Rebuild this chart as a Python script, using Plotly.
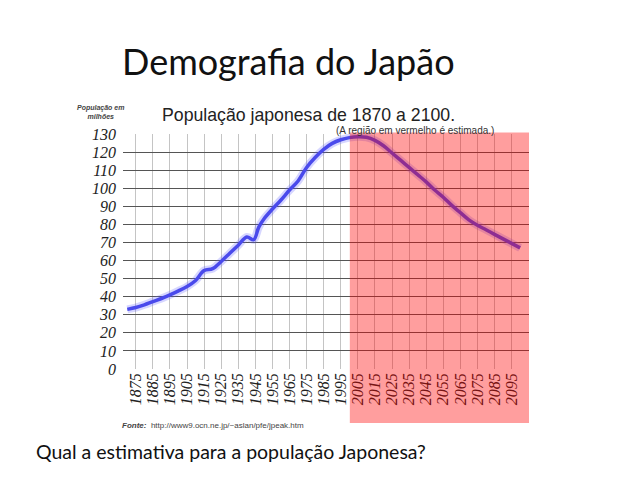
import plotly.graph_objects as go

years = [1870, 1875, 1880, 1885, 1890, 1895, 1900, 1905, 1910, 1915, 1920, 1925,
         1930, 1935, 1940, 1944, 1947, 1950, 1955, 1960, 1965, 1970, 1975, 1980,
         1985, 1990, 1995, 2000, 2005, 2010, 2015, 2020, 2025, 2030, 2035, 2040,
         2045, 2050, 2055, 2060, 2065, 2070, 2075, 2080, 2085, 2090, 2095, 2100]
population = [33, 34, 35.5, 37.3, 39, 41, 43.2, 45.6, 49, 54.5, 55.5, 59.5,
              64, 68.5, 73, 71.5, 78.5, 83, 88.5, 93.5, 99, 104, 111.5, 117,
              121.5, 124.8, 126.8, 128, 128.5, 128.2, 126.5, 123.5, 119.5, 115.5, 111.5, 107.5,
              103.5, 99, 95, 90.5, 86.5, 82.5, 79.5, 77, 74.5, 72, 69.5, 67]
x_ticks = list(range(1875, 2096, 10))
y_ticks = list(range(0, 131, 10))
estimate_start, estimate_end = 2000.3, 2105.2

W, H = 638, 479
L, R, T, B = 123, 109, 134, 110
PH = H - T - B
PW = W - L - R


def px(x):
    return (x - L) / PW


def py(y):
    return (H - B - y) / PH


fig = go.Figure()
fig.add_trace(go.Scatter(x=years, y=population, mode="lines",
                         line=dict(color="rgba(90,90,255,0.25)", width=8, shape="spline"),
                         hoverinfo="skip", showlegend=False))
fig.add_trace(go.Scatter(x=years, y=population, mode="lines",
                         line=dict(color="#4a4aec", width=3.5, shape="spline"),
                         showlegend=False))

fig.add_shape(type="rect", xref="x", yref="paper", x0=estimate_start, x1=estimate_end,
              y0=py(423), y1=py(132.5), fillcolor="rgba(255,0,0,0.38)",
              line=dict(width=0), layer="above")

fig.update_xaxes(range=[1867.5, estimate_end], tickvals=x_ticks, ticktext=[str(v) for v in x_ticks],
                 tickangle=-90, showgrid=True, gridcolor="#c4c4c4", gridwidth=1,
                 zeroline=False, showline=False, ticks="",
                 tickfont=dict(family="Liberation Serif", size=16, color="#222", style="italic"))
fig.update_yaxes(range=[0, 130], tickvals=y_ticks, showgrid=True, gridcolor="#555",
                 gridwidth=1.3, zeroline=False, showline=False, ticks="",
                 ticklabelstandoff=6,
                 tickfont=dict(family="Liberation Serif", size=16, color="#222", style="italic"))

ann = [
    dict(text="Demografia do Japão", x=px(120), y=py(61), xanchor="left", yanchor="middle",
         font=dict(family="Lato", size=36, color="#111")),
    dict(text="Qual a estimativa para a população Japonesa?", x=px(34), y=py(451),
         xanchor="left", yanchor="middle", font=dict(family="Lato", size=19.5, color="#111")),
    dict(text="População japonesa de 1870 a 2100.", x=px(160), y=py(115),
         xanchor="left", yanchor="middle", font=dict(family="Liberation Sans", size=17.7, color="#222")),
    dict(text="(A região em vermelho é estimada.)", x=px(334), y=py(130),
         xanchor="left", yanchor="middle", font=dict(family="Liberation Sans", size=10, color="#333")),
    dict(text="<b><i>População em<br>milhões</i></b>", x=px(100), y=py(112),
         xanchor="center", yanchor="middle",
         font=dict(family="Liberation Sans", size=7, color="#444")),
    dict(text="<b><i>Fonte:</i></b>  http://www9.ocn.ne.jp/~aslan/pfe/jpeak.htm", x=px(120), y=py(425),
         xanchor="left", yanchor="middle", font=dict(family="Liberation Sans", size=8, color="#444")),
]
for a in ann:
    fig.add_annotation(xref="paper", yref="paper", showarrow=False, **a)

fig.update_layout(width=W, height=H, margin=dict(l=L, r=R, t=T, b=B),
                  paper_bgcolor="white", plot_bgcolor="white")

fig.write_html("out.html")
